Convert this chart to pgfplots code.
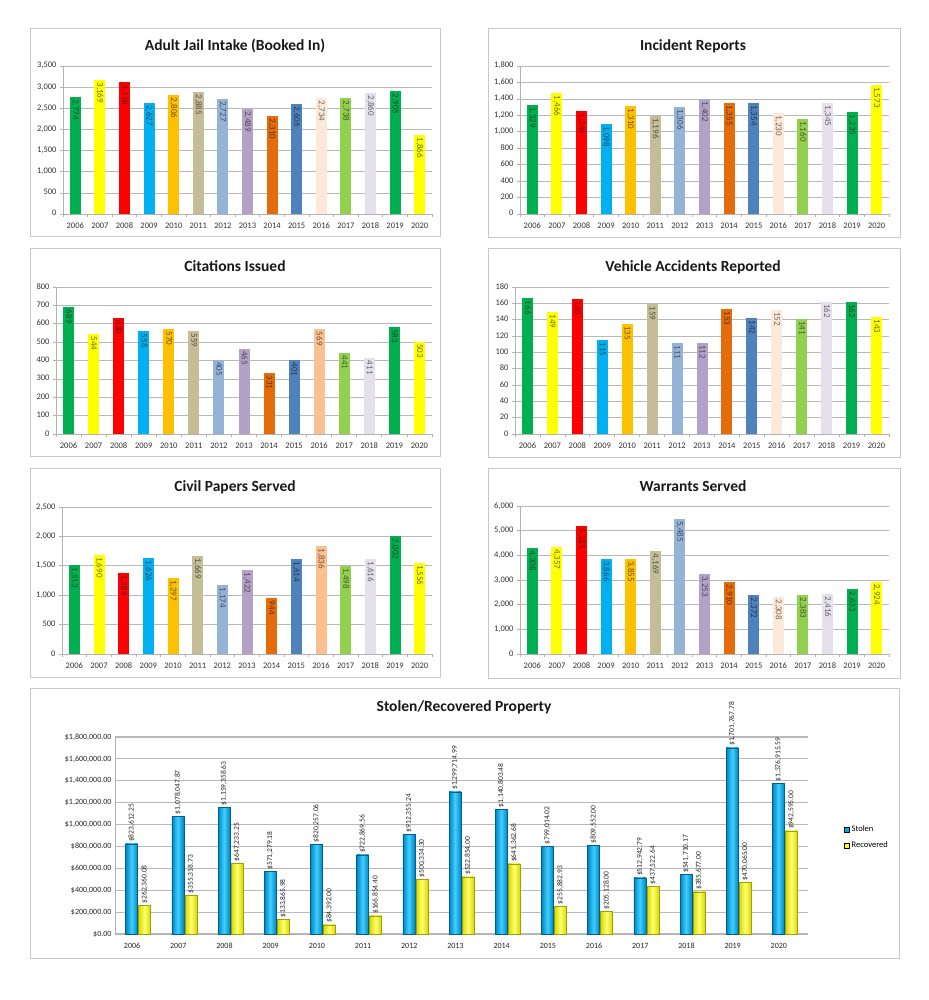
\documentclass[border=0pt]{standalone}
\usepackage{fontspec}
\setmainfont{Carlito}
\usepackage{pgfplots}
\pgfplotsset{compat=1.18}
\usepackage{pgfplotstable}

\definecolor{c0}{HTML}{00B050}
\definecolor{c1}{HTML}{FFFF00}
\definecolor{c2}{HTML}{FF0000}
\definecolor{c3}{HTML}{00B0F0}
\definecolor{c4}{HTML}{FFC000}
\definecolor{c5}{HTML}{C4BD97}
\definecolor{c6}{HTML}{95B3D7}
\definecolor{c7}{HTML}{B3A2C7}
\definecolor{c8}{HTML}{E46C0A}
\definecolor{c9}{HTML}{4F81BD}
\definecolor{lightpeach}{HTML}{FDE9D9}
\definecolor{peach}{HTML}{FAC090}
\colorlet{c10}{lightpeach}
\definecolor{c11}{HTML}{92D050}
\definecolor{c12}{HTML}{E6E0EC}
\definecolor{c13}{HTML}{00B050}
\definecolor{c14}{HTML}{FFFF00}
\definecolor{stolenC}{HTML}{00A8E8}
\definecolor{stolenD}{HTML}{0084C4}
\definecolor{stolenE}{HTML}{005F8F}
\definecolor{stolenL}{HTML}{3FD0FF}
\definecolor{recC}{HTML}{FFFF00}
\definecolor{recD}{HTML}{D8D800}
\definecolor{recE}{HTML}{A0A000}
\definecolor{recL}{HTML}{FFFF70}
\definecolor{framegray}{HTML}{C8C8C8}

\pgfplotstableread{
year jail incident citations accidents civil warrants
2006 2774 1329 689 166 1513 4308
2007 3169 1466 544 149 1690 4357
2008 3118 1249 630 165 1384 5185
2009 2627 1098 558 115 1626 3866
2010 2806 1310 570 135 1297 3855
2011 2885 1196 559 159 1669 4169
2012 2727 1306 405 111 1174 5485
2013 2489 1402 465 112 1422 3253
2014 2310 1355 331 153 944 2910
2015 2606 1354 401 142 1614 2372
2016 2734 1230 569 152 1836 2308
2017 2738 1160 441 141 1498 2383
2018 2860 1345 411 162 1616 2416
2019 2905 1235 583 162 2002 2633
2020 1866 1573 503 143 1556 2924
}\maintable

\pgfplotstableread{
year stolen stolenlab recovered recoveredlab
2006 823612.25 823,612.25 262360.08 262,360.08
2007 1078047.87 1,078,047.87 355318.73 355,318.73
2008 1159358.63 1,159,358.63 647233.25 647,233.25
2009 571279.18 571,279.18 133865.98 133,865.98
2010 820257.06 820,257.06 84392.00 84,392.00
2011 722869.56 722,869.56 166854.40 166,854.40
2012 912355.24 912,355.24 500334.30 500,334.30
2013 1299714.99 1,299,714.99 522854.00 522,854.00
2014 1140803.48 1,140,803.48 641362.68 641,362.68
2015 799014.02 799,014.02 255882.93 255,882.93
2016 809552.00 809,552.00 205128.00 205,128.00
2017 512942.79 512,942.79 437522.64 437,522.64
2018 541710.17 541,710.17 385677.00 385,677.00
2019 1701767.78 1,701,767.78 470065.00 470,065.00
2020 1376915.59 1,376,915.59 942595.00 942,595.00
}\proptable

% zero-size label: text starts a little past the anchor point; #3 = raise (across the bar)
\newcommand{\barlabel}[3]{\smash{\makebox[0pt][l]{\hspace{#1}\raisebox{#3}{#2}}}}

\pgfplotsset{
  /pgf/number format/assume math mode=true,
  /pgf/number format/1000 sep={,},
  smallbase/.style={
    scale only axis, clip=false,
    xmin=2005.5, xmax=2020.5,
    xtick={2005.5,2006.5,...,2020.5}, xticklabels={},
    extra x ticks={2006,2007,...,2020},
    extra x tick labels={2006,2007,2008,2009,2010,2011,2012,2013,2014,2015,2016,2017,2018,2019,2020},
    extra x tick style={major tick length=0pt},
    ymin=0,
    axis lines*=left,
    axis line style={draw=gray!60, line width=0.7pt},
    ymajorgrids, grid style={gray!55, line width=0.7pt},
    major tick length=3pt, tick align=outside,
    tick style={draw=gray!60, line width=0.7pt},
    typeset ticklabels with strut,
    tick label style={font=\fontsize{8.5}{10}\selectfont, text=black!80},
    x tick label style={yshift=-4pt},
    scaled y ticks=false,
  },
}

\newcommand{\smallchart}[7]{%
\begin{axis}[smallbase, at={(#1pt,-#2pt)}, anchor=south west,
  width=#3pt, height=#4pt, ymax=#6, ytick distance=#7]
\pgfplotsinvokeforeach{0,...,14}{%
  \addplot[ybar, bar width=11pt, bar shift=0pt, fill=c##1, draw=none,
    restrict expr to domain={\coordindex}{##1:##1},
    nodes near coords={\barlabel{2.5pt}{\pgfmathprintnumber{\pgfplotspointmeta}}{-0.33em}},
    every node near coord/.append style={rotate=-90, inner sep=0pt, outer sep=0pt,
      text=c##1!45!black, font=\fontsize{9}{10}\selectfont}]
    table[x=year, y=#5] {\maintable};
}
\end{axis}}

\begin{document}
\begin{tikzpicture}
\fill[white] (0pt,0pt) rectangle (928pt,-1000pt);
\path[use as bounding box] (0pt,0pt) rectangle (928pt,-1000pt);

% frames
\draw[framegray, line width=0.8pt] (30pt,-28pt) rectangle (440pt,-236pt);
\draw[framegray, line width=0.8pt] (488pt,-28pt) rectangle (900pt,-237pt);
\draw[framegray, line width=0.8pt] (30pt,-248pt) rectangle (440pt,-456pt);
\draw[framegray, line width=0.8pt] (488pt,-248pt) rectangle (900pt,-457pt);
\draw[framegray, line width=0.8pt] (30pt,-468pt) rectangle (440pt,-677pt);
\draw[framegray, line width=0.8pt] (488pt,-468pt) rectangle (900pt,-678pt);
\draw[framegray, line width=0.8pt] (30pt,-688pt) rectangle (899pt,-958pt);

\colorlet{c10}{lightpeach}
\smallchart{63}{214}{369}{148}{jail}{3500}{500}
\smallchart{520}{214}{369}{148}{incident}{1800}{200}
\colorlet{c10}{peach}
\smallchart{56}{434}{376}{147}{citations}{800}{100}
\colorlet{c10}{lightpeach}
\smallchart{515}{434}{374}{147}{accidents}{180}{20}
\colorlet{c10}{peach}
\smallchart{62}{654}{370}{147}{civil}{2500}{500}
\colorlet{c10}{lightpeach}
\smallchart{520}{654}{369}{148}{warrants}{6000}{1000}

% titles
\begin{scope}[every node/.style={font=\fontsize{15.5}{18}\selectfont\bfseries, text=black!90}]
\node at (235pt,-46pt) {Adult Jail Intake (Booked In)};
\node at (693pt,-46pt) {Incident Reports};
\node at (235pt,-266pt) {Citations Issued};
\node at (693pt,-267pt) {Vehicle Accidents Reported};
\node at (235pt,-487pt) {Civil Papers Served};
\node at (693pt,-486pt) {Warrants Served};
\node at (464pt,-707pt) {Stolen/Recovered Property};
\end{scope}

\begin{axis}[scale only axis, clip=false, at={(115pt,-934pt)}, anchor=south west,
  width=693pt, height=197pt,
  xmin=2005.5, xmax=2020.5, xtick={2006,2007,...,2020},
  typeset ticklabels with strut,
  xticklabel style={/pgf/number format/1000 sep={}, xshift=-6pt, yshift=-5pt},
  major tick length=0pt,
  ymin=0, ymax=1800000, ytick distance=200000, scaled y ticks=false,
  yticklabel={\$\pgfmathprintnumber[fixed, fixed zerofill, precision=2]{\tick}},
  ymajorgrids, grid style={gray!55, line width=1.2pt},
  axis lines*=left, axis line style={draw=gray!60, line width=1pt},
  tick label style={font=\fontsize{8}{9}\selectfont, text=black!85},
  legend image code/.code={\fill[#1] (0pt,-2.5pt) rectangle (5pt,2.5pt);},
  legend style={at={(1,0.49)}, anchor=west, xshift=33pt, draw=none, fill=none,
    font=\fontsize{8.5}{10}\selectfont, row sep=5pt},
  legend cell align=left,
]
\addlegendimage{fill=stolenC}
\addlegendimage{fill=recC}
\legend{Stolen, Recovered}
\pgfplotsinvokeforeach{0,...,14}{%
\addplot[forget plot, ybar, bar width=12pt, bar shift=-6.5pt, draw=stolenE, line width=0.5pt,
  left color=stolenD, right color=stolenD, middle color=stolenL,
  restrict expr to domain={\coordindex}{#1:#1},
  point meta=explicit symbolic,
  nodes near coords={\barlabel{2pt}{\$\pgfplotspointmeta}{\dimexpr 6.5pt-0.33em\relax}},
  every node near coord/.append style={rotate=90, inner sep=0pt, outer sep=0pt,
    font=\fontsize{7.5}{9}\selectfont, text=black!85}]
  table[x=year, y=stolen, meta=stolenlab] {\proptable};
\addplot[forget plot, ybar, bar width=12pt, bar shift=6.5pt, draw=recE, line width=0.5pt,
  left color=recD, right color=recD, middle color=recL,
  restrict expr to domain={\coordindex}{#1:#1},
  point meta=explicit symbolic,
  nodes near coords={\barlabel{2pt}{\$\pgfplotspointmeta}{\dimexpr -6.5pt-0.33em\relax}},
  every node near coord/.append style={rotate=90, inner sep=0pt, outer sep=0pt,
    font=\fontsize{7.5}{9}\selectfont, text=black!85}]
  table[x=year, y=recovered, meta=recoveredlab] {\proptable};
}
\end{axis}
\end{tikzpicture}
\end{document}
